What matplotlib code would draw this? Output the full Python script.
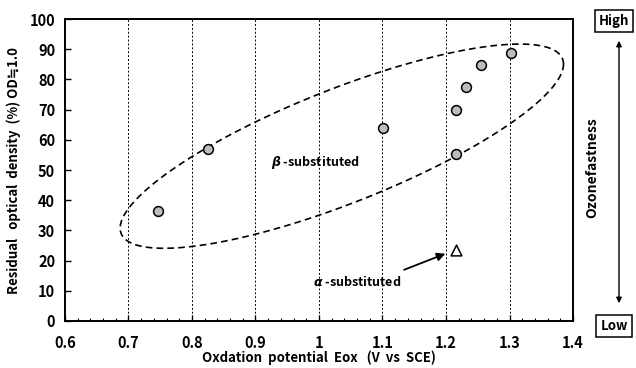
import matplotlib as m
m.use("Agg")
import matplotlib.pyplot as plt
import numpy as np

plt.rcParams['font.family'] = ['Noto Sans CJK JP', 'DejaVu Sans']
plt.rcParams['font.weight'] = 'bold'

# beta-substituted dyes: oxidation potential vs residual OD
betaEox = [0.747, 0.825, 1.101, 1.215, 1.215, 1.232, 1.255, 1.302]
betaOD = [36.5, 57.0, 63.8, 55.2, 69.9, 77.6, 84.9, 88.7]
# alpha-substituted dye
alphaEox = [1.215]
alphaOD = [23.5]

xTicks = [0.6, 0.7, 0.8, 0.9, 1.0, 1.1, 1.2, 1.3, 1.4]
xTickLabels = ['0.6', '0.7', '0.8', '0.9', '1', '1.1', '1.2', '1.3', '1.4']
yTicks = list(range(0, 101, 10))

# grouping ellipse (sheared form): centre, half x-extent, centre-line slope, half chord
ellCx, ellCy = 1.036, 57.9
ellW, ellSlope, ellH = 0.349, 77.8, 20.2

fig = plt.figure(figsize=(6.36, 3.68), dpi=100)
ax = fig.add_axes([0.102, 0.128, 0.799, 0.82])
ax.set_xlim(0.6, 1.4)
ax.set_ylim(0, 100)

# vertical dashed grid
for x in xTicks[1:-1]:
  ax.axvline(x, color='black', linestyle=(0, (2, 2)), linewidth=0.7, zorder=1)

t = np.linspace(0, 2 * np.pi, 400)
ex = ellCx + ellW * np.cos(t)
ey = ellCy + ellSlope * ellW * np.cos(t) + ellH * np.sin(t)
ax.plot(ex, ey, color='black', linestyle=(0, (4, 2.5)), linewidth=1.2, zorder=2)

ax.scatter(betaEox, betaOD, s=50, facecolor='#bdbdbd', edgecolor='black',
           linewidth=1.1, zorder=3)
ax.scatter(alphaEox, alphaOD, s=60, marker='^', facecolor='white', edgecolor='black',
           linewidth=1.1, zorder=3)

ax.text(0.924, 52.4, r'$\beta$ -substituted', fontsize=9, va='center', ha='left')
ax.text(0.99, 13.0, r'$\alpha$ -substituted', fontsize=9, va='center', ha='left')
ax.annotate('', xy=(1.203, 22.6), xytext=(1.13, 16.6),
            arrowprops=dict(arrowstyle='-|>', color='black', lw=1.3, mutation_scale=12))

ax.set_xticks(xTicks)
ax.set_xticklabels(xTickLabels)
ax.set_xticks(np.arange(0.6, 1.4001, 0.02), minor=True)
ax.set_yticks(yTicks)
ax.tick_params(axis='both', which='major', direction='in', length=4, width=1,
               labelsize=10.5)
ax.tick_params(axis='x', which='major', pad=10)
ax.tick_params(axis='y', which='major', pad=7)
ax.tick_params(axis='x', which='minor', direction='in', length=2, width=0.8)
for s in ax.spines.values():
  s.set_linewidth(1.4)

ax.set_xlabel('Oxdation  potential  Eox   (V  vs  SCE)', fontsize=9.5,
              fontweight='bold', labelpad=0)
ax.set_ylabel('Residual   optical  density  (%) OD\u22521.0', fontsize=9.5,
              fontweight='bold', labelpad=6)

# right-hand ozonefastness scale
boxStyle = dict(boxstyle='square,pad=0.3', facecolor='white', edgecolor='black', lw=1.1)
fig.text(614 / 636, 1 - 21 / 368, 'High', fontsize=9.5, ha='center', va='center',
         bbox=boxStyle, zorder=5)
fig.text(614 / 636, 1 - 326 / 368, 'Low', fontsize=9.5, ha='center', va='center',
         bbox=boxStyle, zorder=5)
fig.patches.append(m.patches.FancyArrowPatch((619 / 636, 1 - 38 / 368), (619 / 636, 1 - 306 / 368),
                                             transform=fig.transFigure, arrowstyle='<|-|>',
                                             mutation_scale=8, color='black', lw=1.0))
fig.text(592 / 636, 1 - 168 / 368, 'Ozonefastness', fontsize=10, rotation=90,
         ha='center', va='center')

plt.savefig("out.png", dpi=100)
